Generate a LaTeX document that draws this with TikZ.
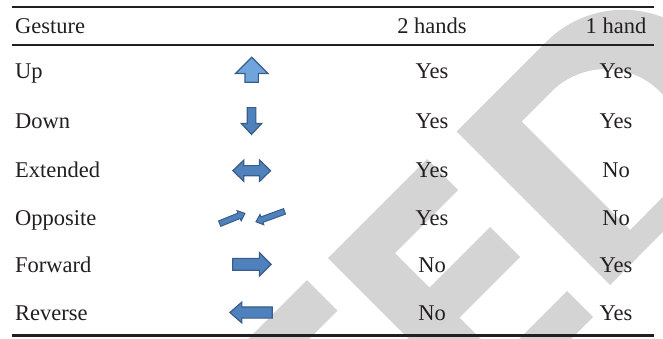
\documentclass[tikz,border=0pt]{standalone}
\usepackage{fontspec}
\setmainfont{Liberation Serif}
\usepackage{tikz}
\usetikzlibrary{positioning, shapes.arrows}
\definecolor{gsBlue}{RGB}{79,129,189}
\definecolor{gsLight}{RGB}{111,165,220}
\definecolor{gsEdge}{RGB}{56,93,138}
\definecolor{gsMark}{RGB}{212,212,212}
\definecolor{gsInk}{RGB}{35,31,32}

\begin{document}
\begin{tikzpicture}[x=1pt, y=-1pt,
	cell/.style={anchor=base, inner sep=0pt, text=gsInk, font=\fontsize{22.5}{27}\selectfont},
	rowname/.style={cell, anchor=base west},
	hrule/.style={gsInk, line width=2pt},
	icon/.style={draw=gsEdge, fill=gsBlue, line width=1.2pt, inner xsep=0pt},
	gesture/.style={icon, single arrow, single arrow tip angle=90, anchor=tail}]
	\useasboundingbox (0,0) rectangle (663,338);
	\fill[white] (0,0) rectangle (663,338);
	% watermark
	\begin{scope}
		\clip (0,0) rectangle (663,338);
		\fill[gsMark] (307,280) -- (337.5,310.5) -- (274,374) -- (243.5,343.5) -- cycle;
		\fill[gsMark] (328,258) -- (427,159) -- (458,190) -- (395,253) -- (429.5,287.5) -- (490,227) -- (520,257) -- (459.5,317.5) -- (500,358) -- (567,291) -- (593,317) -- (526,384) -- (571,429) -- (535,465) -- cycle;
		\fill[gsMark, even odd rule] (456.5,131.5) -- (546.5,41.5) -- plot[domain=-135:45, samples=40] ({623.25+108.5*cos(\x)}, {118.25+108.5*sin(\x)}) -- (610,285) -- cycle
			(521.5,121.5) -- (551.5,91.5) -- plot[domain=-135:45, samples=40] ({605.75+76.7*cos(\x)}, {145.75+76.7*sin(\x)}) -- (630,230) -- cycle;
	\end{scope}
	% rules
	\draw[hrule, line width=1.6pt] (11.7,6.7) -- (654.3,6.7);
	\draw[hrule] (11.7,45) -- (654.3,45);
	\draw[hrule, line width=2.6pt] (11.7,335.7) -- (654.3,335.7);
	% header
	\node[rowname] (hGesture) at (15,33) {Gesture};
	\node[cell] (hTwo) at (432,33) {2 hands};
	\node[cell] (hOne) at (616,33) {1 hand};
	% gesture names
	\node[rowname] (nUp) at (15,78.5) {Up};
	\node[rowname] (nDown) at (15,128) {Down};
	\node[rowname] (nExt) at (15,177) {Extended};
	\node[rowname] (nOpp) at (15,225) {Opposite};
	\node[rowname] (nFwd) at (15,272.5) {Forward};
	\node[rowname] (nRev) at (15,320) {Reverse};
	% arrows
	\node[gesture, fill=gsLight, rotate=90, minimum height=25pt, minimum width=31.5pt, inner ysep=6.05pt, single arrow head extend=9.7pt] (aUp) at (251.7,82.8) {};
	\node[gesture, rotate=-90, single arrow tip angle=86, minimum height=26.8pt, minimum width=19pt, inner ysep=3.75pt, single arrow head extend=5.75pt] (aDown) at (251.5,107) {};
	\node[icon, double arrow, double arrow tip angle=88, minimum height=37.7pt, minimum width=20pt, inner ysep=4.5pt, double arrow head extend=5.5pt] (aExt) at (251.7,170.7) {};
	\node[gesture, line width=1pt, rotate=22, single arrow tip angle=82, minimum height=27.3pt, minimum width=10pt, inner ysep=2.4pt, single arrow head extend=2.6pt] (aOppL) at (219.2,223.8) {};
	\node[gesture, line width=1pt, rotate=200, single arrow tip angle=82, minimum height=30.4pt, minimum width=10pt, inner ysep=2.4pt, single arrow head extend=2.6pt] (aOppR) at (285,211.2) {};
	\node[gesture, minimum height=38.3pt, minimum width=22.3pt, inner ysep=5.35pt, single arrow head extend=5.8pt] (aFwd) at (232.2,264.3) {};
	\node[gesture, rotate=180, single arrow tip angle=82, minimum height=42.3pt, minimum width=19.6pt, inner ysep=5pt, single arrow head extend=4.8pt] (aRev) at (272.8,312.5) {};
	% 2 hands
	\node[cell] (tUp) at (432,78.5) {Yes};
	\node[cell] (tDown) at (432,128) {Yes};
	\node[cell] (tExt) at (432,177) {Yes};
	\node[cell] (tOpp) at (432,225) {Yes};
	\node[cell] (tFwd) at (432,272.5) {No};
	\node[cell] (tRev) at (432,320) {No};
	% 1 hand
	\node[cell] (oUp) at (616,78.5) {Yes};
	\node[cell] (oDown) at (616,128) {Yes};
	\node[cell] (oExt) at (616,177) {No};
	\node[cell] (oOpp) at (616,225) {No};
	\node[cell] (oFwd) at (616,272.5) {Yes};
	\node[cell] (oRev) at (616,320) {Yes};
\end{tikzpicture}
\end{document}
